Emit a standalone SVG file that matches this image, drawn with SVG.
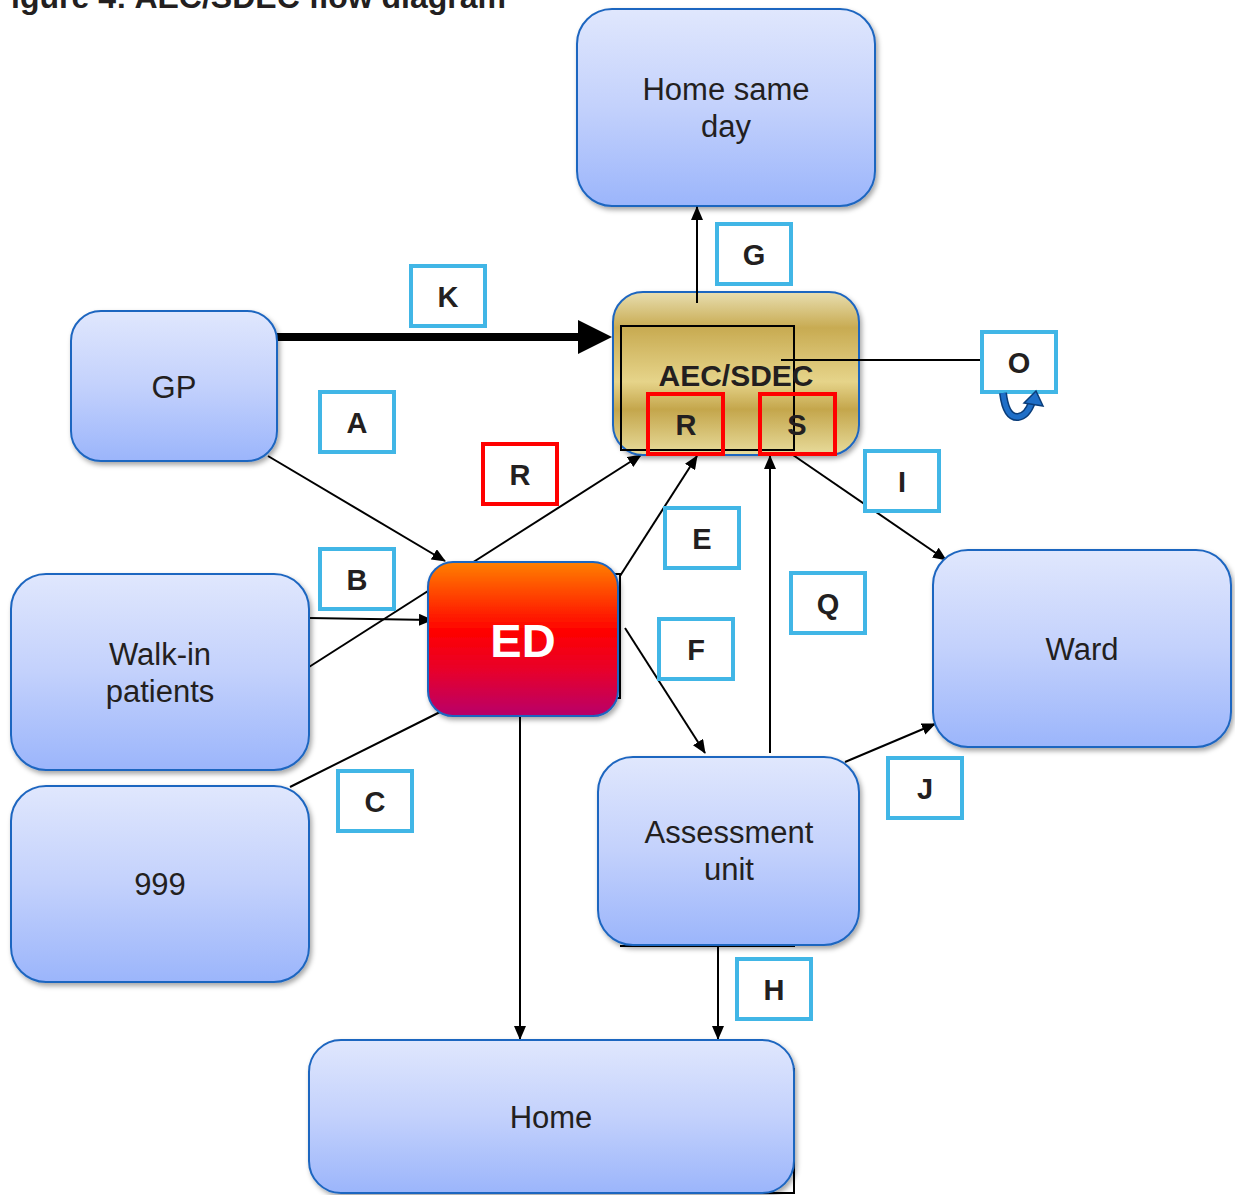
<svg xmlns="http://www.w3.org/2000/svg" width="1235" height="1195" viewBox="0 0 1235 1195">
<style>
.node{stroke:#1f66c0;stroke-width:2;fill:url(#blue);filter:url(#sh)}
.t{font-family:"Liberation Sans",Arial,sans-serif;font-size:31px;fill:#231f20;text-anchor:middle}
.lb{fill:#fff;stroke:#41b6e6;stroke-width:4}
.lr{fill:none;stroke:#ff0000;stroke-width:4}
.lt{font-family:"Liberation Sans",Arial,sans-serif;font-size:29px;font-weight:bold;fill:#231f20;text-anchor:middle}
.c{stroke:#000;stroke-width:2;fill:none}
.a{marker-end:url(#ah)}
</style>
<defs>
<linearGradient id="blue" x1="0" y1="0" x2="0" y2="1">
<stop offset="0" stop-color="#e0e7fd"/><stop offset="0.5" stop-color="#c3d1fc"/><stop offset="1" stop-color="#9bb5fb"/>
</linearGradient>
<linearGradient id="gold" x1="0" y1="0" x2="0" y2="1">
<stop offset="0" stop-color="#e8deb0"/><stop offset="0.22" stop-color="#c8ab52"/><stop offset="0.55" stop-color="#e6d48a"/><stop offset="0.72" stop-color="#c4a64c"/><stop offset="1" stop-color="#e8dc9c"/>
</linearGradient>
<linearGradient id="red" x1="0" y1="0" x2="0" y2="1">
<stop offset="0" stop-color="#ff8000"/><stop offset="0.45" stop-color="#ff0000"/><stop offset="0.7" stop-color="#e8002a"/><stop offset="1" stop-color="#b8006a"/>
</linearGradient>
<filter id="sh" x="-10%" y="-10%" width="125%" height="125%">
<feDropShadow dx="2" dy="3" stdDeviation="2.5" flood-color="#000" flood-opacity="0.35"/>
</filter>
<marker id="ah" markerWidth="14" markerHeight="12" refX="13" refY="6" orient="auto" markerUnits="userSpaceOnUse">
<path d="M0,0 L14,6 L0,12 Z" fill="#000"/>
</marker>
</defs>
<rect width="1235" height="1195" fill="#fff"/>
<text x="506" y="8" font-family="Liberation Sans,Arial,sans-serif" font-size="32" font-weight="bold" fill="#231f20" text-anchor="end">Figure 4: AEC/SDEC flow diagram</text>

<g id="connectors">
<line class="c a" x1="268" y1="456" x2="445" y2="561"/>
<line class="c a" x1="309" y1="618" x2="432" y2="620"/>
<line class="c a" x1="309" y1="667" x2="641" y2="455"/>
<line class="c" x1="290" y1="787" x2="440" y2="712"/>
<line class="c a" x1="520" y1="716" x2="520" y2="1039"/>
<line class="c a" x1="620" y1="576" x2="697" y2="456"/>
<line class="c a" x1="625" y1="628" x2="705" y2="753"/>
<line class="c a" x1="770" y1="753" x2="770" y2="456"/>
<line class="c a" x1="845" y1="762" x2="935" y2="724"/>
<line class="c a" x1="793" y1="455" x2="946" y2="560"/>
<line class="c a" x1="718" y1="945" x2="718" y2="1039"/>
<line x1="277" y1="337" x2="582" y2="337" stroke="#000" stroke-width="8"/>
<polygon points="578,320 612,337 578,354" fill="#000"/>
<polyline class="c" points="612,574 620,574 620,698 612,698"/>
<polyline class="c" points="437,1193 794,1193 794,1068"/>
<line class="c" x1="620" y1="946" x2="795" y2="946"/>
</g>

<g id="n-home-same-day">
<rect class="node" x="577" y="9" width="298" height="197" rx="35"/>
<text class="t" x="726" y="100">Home same</text>
<text class="t" x="726" y="137">day</text>
</g>
<g id="n-gp">
<rect class="node" x="71" y="311" width="206" height="150" rx="30"/>
<text class="t" x="174" y="398">GP</text>
</g>
<g id="n-walkin">
<rect class="node" x="11" y="574" width="298" height="196" rx="35"/>
<text class="t" x="160" y="665">Walk-in</text>
<text class="t" x="160" y="702">patients</text>
</g>
<g id="n-999">
<rect class="node" x="11" y="786" width="298" height="196" rx="35"/>
<text class="t" x="160" y="895">999</text>
</g>
<g id="n-home">
<rect class="node" x="309" y="1040" width="485" height="153" rx="32"/>
<text class="t" x="551" y="1128">Home</text>
</g>
<g id="n-assessment">
<rect class="node" x="598" y="757" width="261" height="188" rx="35"/>
<text class="t" x="729" y="843">Assessment</text>
<text class="t" x="729" y="880">unit</text>
</g>
<g id="n-ward">
<rect class="node" x="933" y="550" width="298" height="197" rx="35"/>
<text class="t" x="1082" y="660">Ward</text>
</g>
<g id="n-ed">
<rect x="428" y="562" width="190" height="154" rx="25" fill="url(#red)" stroke="#1f66c0" stroke-width="2" filter="url(#sh)"/>
<text x="523" y="657" font-family="Liberation Sans,Arial,sans-serif" font-size="47" font-weight="bold" fill="#fff" text-anchor="middle">ED</text>
</g>
<g id="n-aec">
<rect x="613" y="292" width="246" height="163" rx="30" fill="url(#gold)" stroke="#1f66c0" stroke-width="2" filter="url(#sh)"/>
<rect x="621" y="326" width="173" height="124" fill="none" stroke="#000" stroke-width="2"/>
<text x="736" y="386" font-family="Liberation Sans,Arial,sans-serif" font-size="30" font-weight="bold" fill="#231f20" text-anchor="middle">AEC/SDEC</text>
<rect class="lr" x="648" y="394" width="75" height="60"/>
<text class="lt" x="686" y="435">R</text>
<rect class="lr" x="760" y="394" width="75" height="60"/>
<text class="lt" x="797" y="435">S</text>
</g>

<g id="connectors-over">
<line class="c a" x1="697" y1="303" x2="697" y2="207"/>
<line class="c" x1="781" y1="360" x2="981" y2="360"/>
</g>

<g id="label-K"><rect class="lb" x="411" y="266" width="74" height="60"/><text class="lt" x="448" y="307">K</text></g>
<g id="label-G"><rect class="lb" x="717" y="224" width="74" height="60"/><text class="lt" x="754" y="265">G</text></g>
<g id="label-A"><rect class="lb" x="320" y="392" width="74" height="60"/><text class="lt" x="357" y="433">A</text></g>
<g id="label-R"><rect class="lr" x="483" y="444" width="74" height="60"/><text class="lt" x="520" y="485">R</text></g>
<g id="label-B"><rect class="lb" x="320" y="549" width="74" height="60"/><text class="lt" x="357" y="590">B</text></g>
<g id="label-C"><rect class="lb" x="338" y="771" width="74" height="60"/><text class="lt" x="375" y="812">C</text></g>
<g id="label-E"><rect class="lb" x="665" y="508" width="74" height="60"/><text class="lt" x="702" y="549">E</text></g>
<g id="label-F"><rect class="lb" x="659" y="619" width="74" height="60"/><text class="lt" x="696" y="660">F</text></g>
<g id="label-Q"><rect class="lb" x="791" y="573" width="74" height="60"/><text class="lt" x="828" y="614">Q</text></g>
<g id="label-I"><rect class="lb" x="865" y="451" width="74" height="60"/><text class="lt" x="902" y="492">I</text></g>
<g id="label-O"><rect class="lb" x="982" y="332" width="74" height="60"/><text class="lt" x="1019" y="373">O</text></g>
<g id="label-J"><rect class="lb" x="888" y="758" width="74" height="60"/><text class="lt" x="925" y="799">J</text></g>
<g id="label-H"><rect class="lb" x="737" y="959" width="74" height="60"/><text class="lt" x="774" y="1000">H</text></g>

<g id="uturn">
<path d="M1003,393 Q1006,418 1018,417 Q1027,416 1032,402" fill="none" stroke="#0a3d7a" stroke-width="8"/>
<path d="M1003,393 Q1006,418 1018,417 Q1027,416 1032,402" fill="none" stroke="#1f6fc8" stroke-width="5"/>
<polygon points="1024,403 1036,391 1043,406" fill="#1f6fc8" stroke="#0a3d7a" stroke-width="1.5"/>
</g>
</svg>
